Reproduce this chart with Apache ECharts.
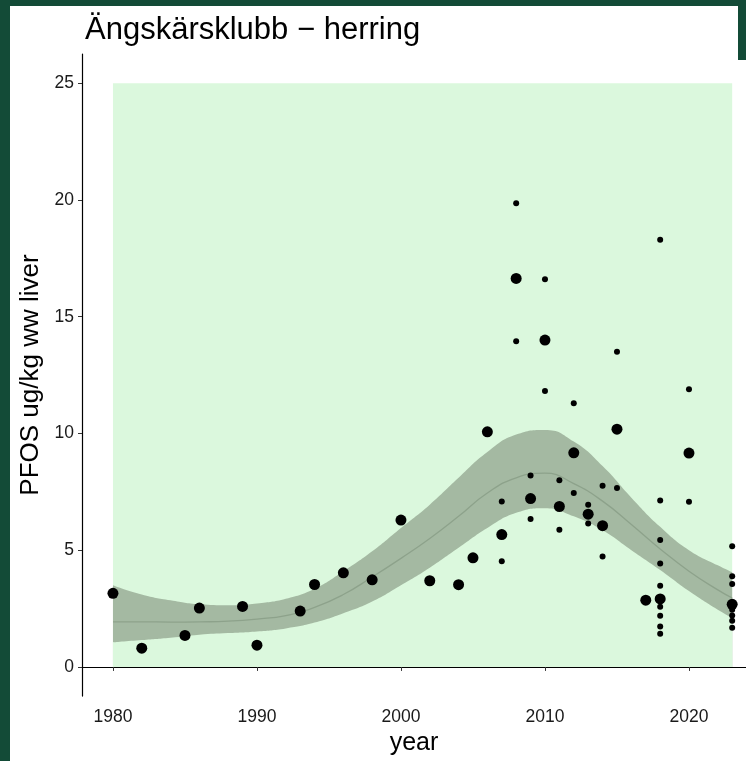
<!DOCTYPE html>
<html>
<head>
<meta charset="utf-8">
<title>Ängskärsklubb - herring</title>
<script src="https://cdn.jsdelivr.net/npm/echarts@6/dist/echarts.min.js"></script>
<style>
    html, body { margin: 0; padding: 0; background: #ffffff; }
    #chart { width: 746px; height: 761px; }
</style>
</head>
<body>
<div id="chart"></div>
<script>
    // yearly values (big dots)
    const meanYears = [1980, 1982, 1985, 1986, 1989, 1990, 1993, 1994, 1996, 1998, 2000, 2002, 2004, 2005,
        2006, 2007, 2008, 2009, 2010, 2011, 2012, 2013, 2014, 2015, 2017, 2018, 2020, 2023];
    const meanValues = [3.15, 0.8, 1.35, 2.52, 2.59, 0.93, 2.39, 3.53, 4.03, 3.73, 6.29, 3.69, 3.52, 4.67,
        10.07, 5.67, 16.64, 7.21, 14.0, 6.87, 9.17, 6.54, 6.05, 10.18, 2.86, 2.91, 9.16, 2.68];

    // single samples (small dots)
    const sampleYears = [2007, 2007, 2008, 2008, 2009, 2009, 2010, 2010, 2011, 2011, 2012, 2012,
        2013, 2013, 2014, 2014, 2015, 2015,
        2018, 2018, 2018, 2018, 2018, 2018, 2018, 2018, 2018,
        2020, 2020,
        2023, 2023, 2023, 2023, 2023, 2023, 2023];
    const sampleValues = [7.08, 4.53, 19.86, 13.95, 8.2, 6.34, 16.6, 11.82, 7.99, 5.87, 11.29, 7.45,
        6.95, 6.14, 7.76, 4.73, 13.5, 7.66,
        18.29, 7.13, 5.44, 4.43, 3.48, 2.58, 2.19, 1.73, 1.42,
        11.89, 7.07,
        5.17, 3.88, 3.55, 2.45, 2.2, 1.98, 1.68];

    // smoother and its confidence band
    const fitYears = [1980, 1982, 1984, 1986, 1988, 1990, 1992, 1994, 1996, 1998, 2000, 2002, 2004, 2006,
        2008, 2010, 2012, 2014, 2016, 2018, 2020, 2022, 2023];
    const fitValues = [1.93, 1.93, 1.92, 1.93, 1.96, 2.05, 2.2, 2.55, 3.1, 3.85, 4.65, 5.5, 6.45, 7.45,
        8.1, 8.3, 7.85, 7.1, 6.1, 5.05, 4.1, 3.3, 2.95];
    const fitLower = [1.05, 1.15, 1.25, 1.38, 1.45, 1.52, 1.65, 1.9, 2.3, 2.8, 3.5, 4.25, 5.1, 5.95,
        6.6, 6.8, 6.45, 5.85, 5.0, 4.15, 3.25, 2.45, 2.1];
    const fitUpper = [3.5, 3.1, 2.85, 2.68, 2.64, 2.72, 2.92, 3.35, 4.1, 4.95, 5.95, 6.95, 8.1, 9.2,
        9.95, 10.15, 9.65, 8.6, 7.25, 6.0, 5.0, 4.35, 4.05];

    const panelYears = [1980, 2023];
    const panelValues = [0, 25];
    const xTicks = [1980, 1990, 2000, 2010, 2020];
    const yTicks = [0, 5, 10, 15, 20, 25];

    const font = 'Liberation Sans, Arial, sans-serif';
    const panelColor = '#dbf8dd';
    const bandColor = '#a4b9a2';
    const pairs = (xs, ys) => xs.map((x, i) => [x, ys[i]]);

    let myChart = echarts.init(document.getElementById('chart'), null, { renderer: 'canvas' });

    let option = {
        backgroundColor: '#ffffff',
        animation: false,
        title: {
            text: 'Ängskärsklubb − herring',
            left: 80,
            top: 10,
            textStyle: { fontFamily: font, fontSize: 31, fontWeight: 'normal', color: '#000' }
        },
        graphic: [
            { type: 'rect', left: 0, top: 0, shape: { width: 10, height: 761 }, style: { fill: '#134b37' } },
            { type: 'rect', left: 0, top: 0, shape: { width: 746, height: 6 }, style: { fill: '#134b37' } },
            { type: 'rect', right: 0, top: 0, shape: { width: 8, height: 60 }, style: { fill: '#134b37' } }
        ],
        grid: {
            left: 82,
            top: 54,
            width: 664,
            height: 644,
            containLabel: false
        },
        xAxis: {
            type: 'value',
            min: 1977.85,
            max: 2023.96,
            name: 'year',
            nameLocation: 'middle',
            nameGap: 34,
            nameTextStyle: { fontFamily: font, fontSize: 25, color: '#000' },
            axisLine: { show: true, lineStyle: { color: '#000', width: 1.2 } },
            axisTick: { show: true, length: 4, customValues: xTicks, lineStyle: { color: '#333' } },
            axisLabel: {
                customValues: xTicks,
                formatter: v => String(v),
                margin: 12,
                fontFamily: font,
                fontSize: 17.5,
                color: '#1a1a1a'
            },
            splitLine: { show: false }
        },
        yAxis: {
            type: 'value',
            min: -1.25,
            max: 26.25,
            name: 'PFOS ug/kg ww liver',
            nameLocation: 'middle',
            nameGap: 36,
            nameRotate: 90,
            nameTextStyle: { fontFamily: font, fontSize: 26, color: '#000' },
            axisLine: { show: true, lineStyle: { color: '#000', width: 1.2 } },
            axisTick: { show: true, length: 4, customValues: yTicks, lineStyle: { color: '#333' } },
            axisLabel: {
                customValues: yTicks,
                margin: 8,
                fontFamily: font,
                fontSize: 17.5,
                color: '#1a1a1a'
            },
            splitLine: { show: false }
        },
        series: [
            {
                name: 'panel',
                type: 'line',
                data: [],
                silent: true,
                z: 0,
                markArea: {
                    silent: true,
                    itemStyle: { color: panelColor },
                    data: [[
                        { coord: [panelYears[0], panelValues[0]] },
                        { coord: [panelYears[1], panelValues[1]] }
                    ]]
                }
            },
            {
                // upper edge of the band, filled down to zero
                name: 'upper',
                type: 'line',
                data: pairs(fitYears, fitUpper),
                smooth: true,
                symbol: 'none',
                lineStyle: { opacity: 0 },
                areaStyle: { color: bandColor, opacity: 1, origin: 0 },
                z: 1
            },
            {
                // lower edge, fill with panel colour to cut the band
                name: 'lower',
                type: 'line',
                data: pairs(fitYears, fitLower),
                smooth: true,
                symbol: 'none',
                lineStyle: { opacity: 0 },
                areaStyle: { color: panelColor, opacity: 1, origin: 0 },
                z: 2
            },
            {
                name: 'fit',
                type: 'line',
                data: pairs(fitYears, fitValues),
                smooth: true,
                symbol: 'none',
                lineStyle: { color: '#8da28b', width: 1.3 },
                z: 3
            },
            {
                name: 'yearly',
                type: 'scatter',
                data: pairs(meanYears, meanValues),
                symbolSize: 11,
                itemStyle: { color: '#000', opacity: 1 },
                z: 4
            },
            {
                name: 'samples',
                type: 'scatter',
                data: pairs(sampleYears, sampleValues),
                symbolSize: 6,
                itemStyle: { color: '#000', opacity: 1 },
                z: 5
            }
        ]
    };

    myChart.setOption(option);
</script>
</body>
</html>
